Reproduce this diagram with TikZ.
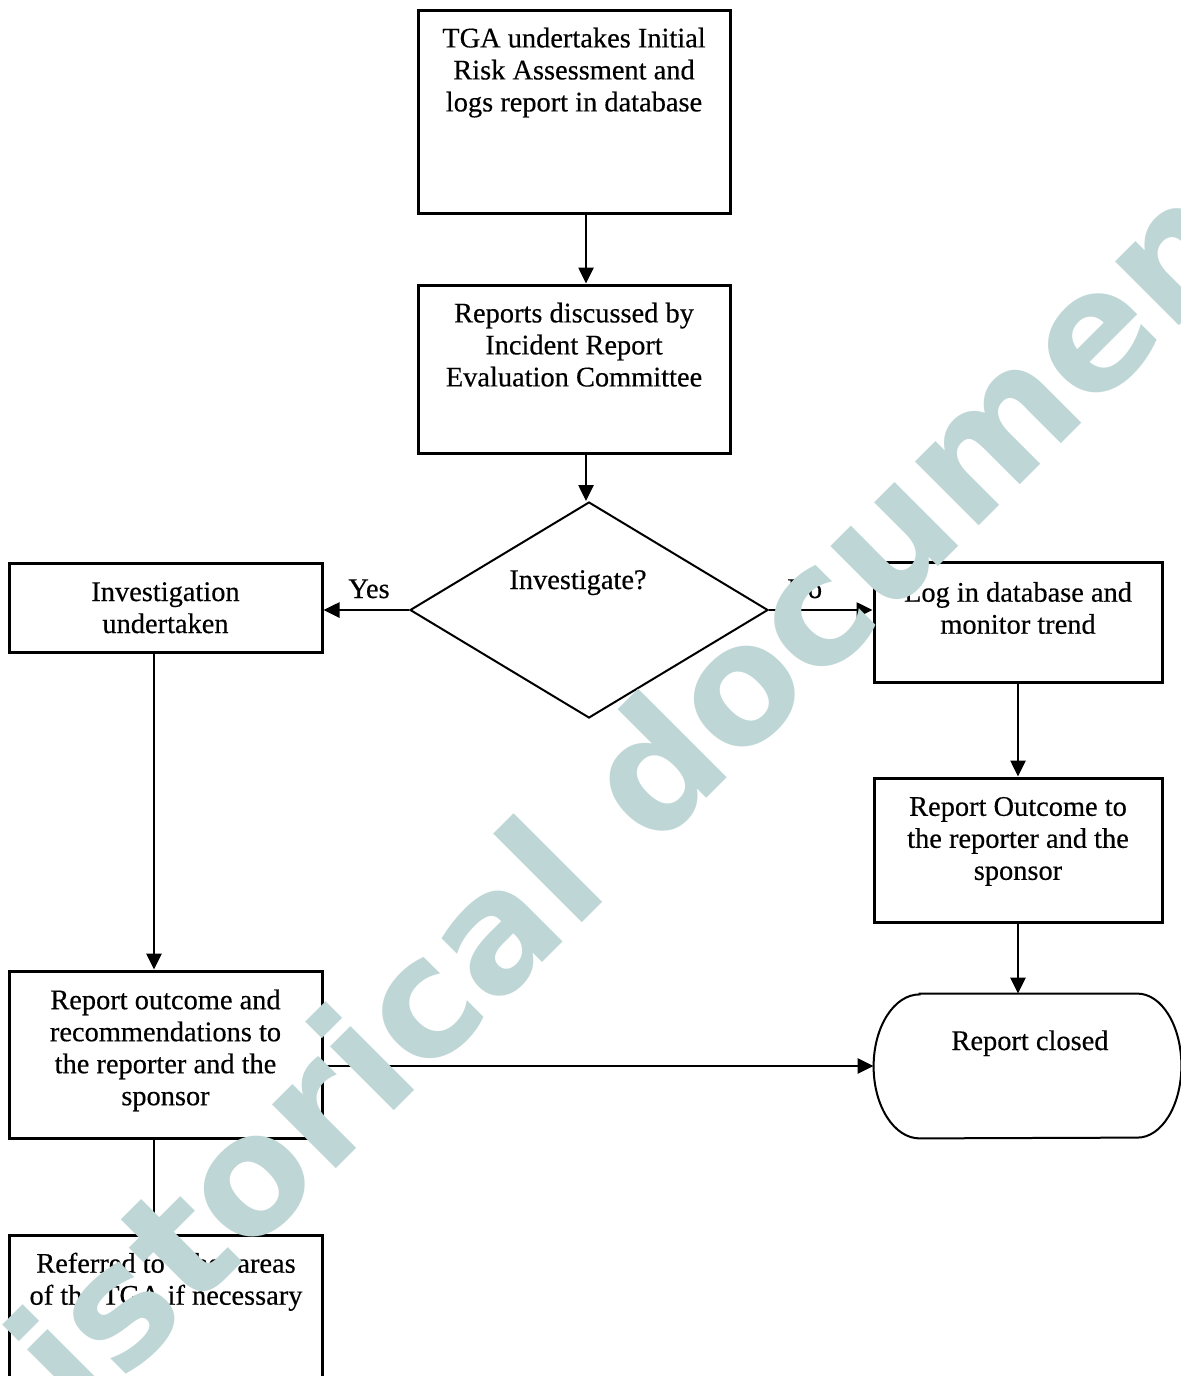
\documentclass[tikz,border=0pt]{standalone}
\usepackage{fontspec}
\setmainfont{Liberation Serif}[FakeBold=0.4]
\newfontfamily\wmfont{DejaVu Sans}
\usetikzlibrary{arrows.meta,shapes.geometric,calc}
\definecolor{wm}{RGB}{190,215,214}
\begin{document}
\begin{tikzpicture}[x=0.5pt,y=-0.5pt,
  box/.style={draw, line width=1.5pt, inner sep=0pt, rectangle},
  txt/.style={font=\fontsize{14.2}{16}\selectfont, align=center, inner sep=0pt, anchor=north, execute at begin node=\strut},
  lbl/.style={font=\fontsize{14.2}{16}\selectfont, inner sep=0pt, anchor=base},
  arr/.style={line width=1.3pt, -{Triangle[length=8pt,width=7.5pt]}}]
\useasboundingbox (0,0) rectangle (1181,1376);
\fill[white] (0,0) rectangle (1181,1376);

% boxes
\node[box, minimum width=156pt, minimum height=101.5pt] (b1) at (574,111.5) {};
\node[box, minimum width=156pt, minimum height=84pt] (b2) at (574,369) {};
\node[draw, diamond, line width=1pt, minimum width=179pt, minimum height=108pt, inner sep=0pt] (dia) at (589,610) {};
\node[box, minimum width=156.5pt, minimum height=44.5pt] (inv) at (165.5,607.5) {};
\node[box, minimum width=144pt, minimum height=60pt] (log) at (1018,622) {};
\node[box, minimum width=144pt, minimum height=72pt] (ror) at (1018,850) {};
\node[box, minimum width=156.5pt, minimum height=83.5pt] (rol) at (165.5,1054.5) {};
\node[box, minimum width=156.5pt, minimum height=92.5pt] (ref) at (165.5,1327.5) {};
\node[inner sep=0pt, minimum width=153.5pt, minimum height=72pt] (rc) at (1027.5,1066) {};
\draw[line width=1pt] ([xshift=23pt]rc.north west) -- ([xshift=-22pt]rc.north east)
  arc[start angle=90, end angle=-90, x radius=22pt, y radius=36pt]
  -- ([xshift=23pt]rc.south west)
  arc[start angle=270, end angle=90, x radius=23pt, y radius=36pt] -- cycle;

% texts
\node[txt] (t1) at (574,27.3) {TGA undertakes Initial\\Risk Assessment and\\logs report in database};
\node[txt] (t2) at (574,302.3) {Reports discussed by\\Incident Report\\Evaluation Committee};
\node[lbl] (tdia) at (578,589) {Investigate?};
\node[txt] (tinv) at (165.5,581.8) {Investigation\\undertaken};
\node[txt] (tlog) at (1018,581.6) {Log in database and\\monitor trend};
\node[txt] (tror) at (1018,796.6) {Report Outcome to\\the reporter and the\\sponsor};
\node[txt] (trol) at (165.5,989.1) {Report outcome and\\recommendations to\\the reporter and the\\sponsor};
\node[lbl] (trc) at (1030,1050) {Report closed};
\node[txt] (tref) at (166,1252.3) {Referred to other areas\\of the TGA if necessary};
\node[lbl] (yes) at (369,598) {Yes};
\node[lbl, anchor=base west] (no) at (787,598) {No};

% connectors
\draw[arr] ([xshift=6pt]b1.south) -- ([xshift=6pt]b1.south |- b2.north);
\draw[arr] ([xshift=6pt]b2.south) -- ([xshift=6pt]b2.south |- dia.north);
\draw[arr] (dia.west) -- (dia.west -| inv.east);
\draw[arr] (dia.east) -- (dia.east -| log.west);
\draw[arr] ([xshift=-5.75pt]inv.south) -- ([xshift=-5.75pt]inv.south |- rol.north);
\draw[arr] (log.south) -- (ror.north);
\draw[arr] (ror.south) -- (ror.south |- rc.north);
\draw[arr] (rc.west -| rol.east) -- (rc.west);
\draw[arr] ([xshift=-5.75pt]rol.south) -- ([xshift=-5.75pt]rol.south |- ref.north);

% watermark
\node[rotate=45, anchor=base, text=wm, inner sep=0pt,
  font=\wmfont\bfseries\fontsize{82.5}{90}\selectfont] (wmk) at (653.5,851.5) {historical document};
\end{tikzpicture}
\end{document}
